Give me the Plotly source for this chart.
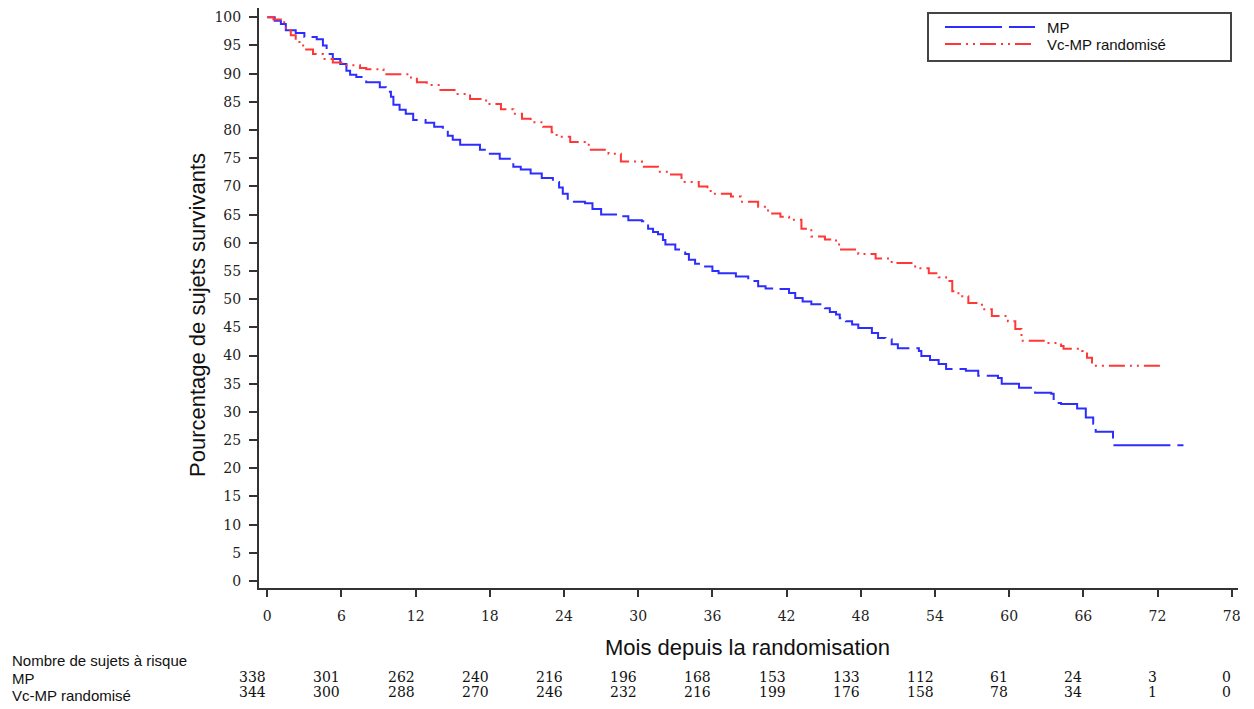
import plotly.graph_objects as go

# ---------------- data ----------------
mp_time = [0, 0.6, 1.1, 1.5, 2.3, 3.0, 4.0, 4.5, 4.8, 5.3, 5.9, 6.4, 6.7, 7.2, 8.0, 9.1, 9.6,
           10.0, 10.2, 10.7, 11.2, 11.8, 12.8, 13.5, 14.2, 14.6, 15.0, 15.6, 17.2, 18.0, 18.8,
           19.9, 20.5, 21.3, 22.2, 23.1, 23.6, 23.9, 24.3, 24.8, 25.7, 26.3, 27.0, 28.6, 29.2,
           30.3, 30.8, 31.2, 31.6, 32.0, 32.2, 33.0, 33.8, 34.1, 34.6, 35.1, 36.0, 36.5, 37.9,
           38.9, 39.7, 40.3, 41.3, 42.2, 42.7, 43.3, 44.0, 45.1, 45.5, 46.0, 46.3, 46.8, 47.3,
           47.8, 48.9, 49.4, 50.0, 50.5, 51.0, 52.7, 52.9, 53.6, 54.3, 54.9, 56.5, 57.5, 59.1,
           59.4, 60.8, 62.1, 63.4, 63.6, 64.2, 65.5, 66.2, 66.8, 67.0, 68.4, 74.1]
mp_surv = [100, 99.4, 98.8, 97.7, 97.2, 96.5, 96.1, 95.0, 93.5, 92.6, 91.7, 90.5, 89.8, 89.4,
           88.5, 87.6, 86.8, 85.9, 84.5, 83.6, 82.9, 81.8, 81.3, 80.6, 79.7, 79.0, 78.3, 77.4,
           76.5, 75.8, 74.9, 73.5, 73.0, 72.3, 71.5, 70.8, 69.8, 68.7, 67.8, 67.3, 67.0, 66.0,
           65.0, 64.7, 64.0, 63.8, 62.5, 61.9, 61.5, 60.5, 59.7, 58.8, 58.0, 57.0, 56.3, 55.8,
           55.0, 54.6, 54.0, 53.2, 52.3, 51.9, 51.8, 51.1, 50.2, 49.6, 49.1, 48.4, 47.7, 47.3,
           46.6, 46.1, 45.5, 44.9, 44.0, 43.1, 42.9, 42.0, 41.3, 40.8, 39.9, 39.2, 38.5, 37.6,
           37.3, 36.4, 36.0, 35.0, 34.3, 33.4, 33.2, 31.6, 31.4, 30.6, 29.0, 27.9, 26.5, 24.1,
           24.1]

vc_time = [0, 0.5, 1.1, 1.5, 1.9, 2.3, 2.9, 3.7, 4.5, 5.3, 6.0, 7.5, 8.0, 9.4, 11.5, 12.1, 12.9,
           14.0, 15.3, 16.4, 17.7, 18.9, 19.9, 20.6, 21.3, 22.3, 23.0, 23.4, 24.5, 26.0, 27.6,
           28.6, 30.3, 31.6, 32.4, 33.5, 34.9, 35.6, 36.2, 37.5, 38.3, 39.7, 40.5, 41.5, 42.2,
           43.2, 44.0, 45.1, 46.0, 46.4, 47.8, 49.2, 50.5, 52.4, 53.5, 54.3, 54.9, 55.4, 55.9,
           56.7, 57.8, 58.6, 59.9, 60.5, 61.0, 62.9, 64.2, 64.4, 65.9, 66.3, 66.7, 72.2]
vc_surv = [100, 99.6, 99.1, 97.7, 96.8, 95.6, 94.3, 93.5, 92.6, 92.0, 91.5, 91.0, 90.8, 89.9,
           89.3, 88.5, 88.0, 87.1, 86.4, 85.5, 84.6, 83.7, 82.9, 82.0, 81.4, 80.6, 79.6, 78.8,
           77.9, 76.5, 75.8, 74.4, 73.5, 72.6, 72.1, 70.8, 70.0, 69.2, 68.7, 68.2, 67.3, 66.4,
           65.2, 64.6, 64.1, 62.5, 61.1, 60.6, 59.7, 58.8, 58.0, 57.2, 56.4, 55.5, 54.6, 53.9,
           53.2, 51.4, 50.5, 49.3, 48.2, 47.0, 46.1, 44.7, 42.6, 42.2, 41.7, 41.2, 40.8, 39.6,
           38.2, 38.2]

risk_months = [0, 6, 12, 18, 24, 30, 36, 42, 48, 54, 60, 66, 72, 78]
risk_mp = [338, 301, 262, 240, 216, 196, 168, 153, 133, 112, 61, 24, 3, 0]
risk_vc = [344, 300, 288, 270, 246, 232, 216, 199, 176, 158, 78, 34, 1, 0]

x_ticks = list(range(0, 79, 6))
y_ticks = list(range(0, 101, 5))

series_names = ["MP", "Vc-MP randomisé"]
risk_title = "Nombre de sujets à risque"
x_title = "Mois depuis la randomisation"
y_title = "Pourcentage de sujets survivants"

BLUE = "rgb(45,45,255)"
RED = "rgb(255,55,55)"
BLUE_DASH = "57px,7px,27px,7px"
RED_DASH = "16px,5px,2px,5px,2px,5px"

# ---------------- figure ----------------
OFF = 8                      # page body margin
W, H = 1254 - OFF, 709 - OFF
ML, MR, MT, MB = 251, 16, 0, 121
PW, PH = W - ML - MR, H - MT - MB


def px(pix):
    """page x pixel -> paper x"""
    return (pix - OFF - ML) / PW


def py(pix):
    """page y pixel -> paper y"""
    return (H - MB - (pix - OFF)) / PH


SANS = "Liberation Sans, Arial, sans-serif"
SERIF = "DejaVu Serif, serif"

fig = go.Figure()
fig.add_trace(go.Scatter(
    x=mp_time, y=mp_surv, mode="lines", name=series_names[0],
    line=dict(shape="hv", color=BLUE, width=2, dash=BLUE_DASH),
))
fig.add_trace(go.Scatter(
    x=vc_time, y=vc_surv, mode="lines", name=series_names[1],
    line=dict(shape="hv", color=RED, width=2, dash=RED_DASH),
))

ann = []
ann.append(dict(text=y_title, xref="paper", yref="paper", x=px(197), y=py(315),
                textangle=-90, showarrow=False, xanchor="center", yanchor="middle",
                font=dict(family=SANS, size=22, color="#111")))
ann.append(dict(text=x_title, xref="paper", yref="paper", x=px(747), y=py(647),
                showarrow=False, xanchor="center", yanchor="middle",
                font=dict(family=SANS, size=22, color="#111")))
ann.append(dict(text=risk_title, xref="paper", yref="paper", x=px(10), y=py(660),
                showarrow=False, xanchor="left", yanchor="middle",
                font=dict(family=SANS, size=15, color="#111")))
ann.append(dict(text=series_names[0], xref="paper", yref="paper", x=px(10), y=py(678),
                showarrow=False, xanchor="left", yanchor="middle",
                font=dict(family=SANS, size=15, color="#111")))
ann.append(dict(text=series_names[1], xref="paper", yref="paper", x=px(10), y=py(695),
                showarrow=False, xanchor="left", yanchor="middle",
                font=dict(family=SANS, size=15, color="#111")))
for m, a, b in zip(risk_months, risk_mp, risk_vc):
    ann.append(dict(text=str(a), xref="x", yref="paper", x=m, y=py(677), xshift=1,
                    showarrow=False, xanchor="right", yanchor="middle",
                    font=dict(family=SERIF, size=14, color="#111")))
    ann.append(dict(text=str(b), xref="x", yref="paper", x=m, y=py(692), xshift=1,
                    showarrow=False, xanchor="right", yanchor="middle",
                    font=dict(family=SERIF, size=14, color="#111")))

# legend drawn as box + sample lines + labels
shapes = [
    dict(type="rect", xref="paper", yref="paper", x0=px(928), x1=px(1231), y0=py(61), y1=py(13),
         line=dict(color="#444", width=2), fillcolor="white", layer="above"),
    dict(type="line", xref="paper", yref="paper", x0=px(945), x1=px(1035), y0=py(27), y1=py(27),
         line=dict(color=BLUE, width=2, dash=BLUE_DASH), layer="above"),
    dict(type="line", xref="paper", yref="paper", x0=px(945), x1=px(1035), y0=py(44), y1=py(44),
         line=dict(color=RED, width=2, dash=RED_DASH), layer="above"),
]
ann.append(dict(text=series_names[0], xref="paper", yref="paper", x=px(1045), y=py(27),
                showarrow=False, xanchor="left", yanchor="middle",
                font=dict(family=SANS, size=15, color="#111")))
ann.append(dict(text=series_names[1], xref="paper", yref="paper", x=px(1045), y=py(44),
                showarrow=False, xanchor="left", yanchor="middle",
                font=dict(family=SANS, size=15, color="#111")))

fig.update_layout(
    width=W, height=H,
    margin=dict(l=ML, r=MR, t=MT, b=MB, pad=0),
    paper_bgcolor="white", plot_bgcolor="white",
    showlegend=False,
    annotations=ann,
    shapes=shapes,
    xaxis=dict(range=[-0.67, 78.51], tickvals=x_ticks, showgrid=False, zeroline=False,
               showline=True, linecolor="#333", linewidth=2, ticks="outside", ticklen=7,
               tickwidth=1.5, tickcolor="#333", ticklabelstandoff=7,
               tickfont=dict(family=SERIF, size=14, color="#222")),
    yaxis=dict(range=[-1.24, 101.65], tickvals=y_ticks, showgrid=False, zeroline=False,
               showline=True, linecolor="#333", linewidth=2, ticks="outside", ticklen=8,
               tickwidth=1.5, tickcolor="#333", ticklabelstandoff=5,
               tickfont=dict(family=SERIF, size=14, color="#222")),
)

fig.write_html("out.html")
